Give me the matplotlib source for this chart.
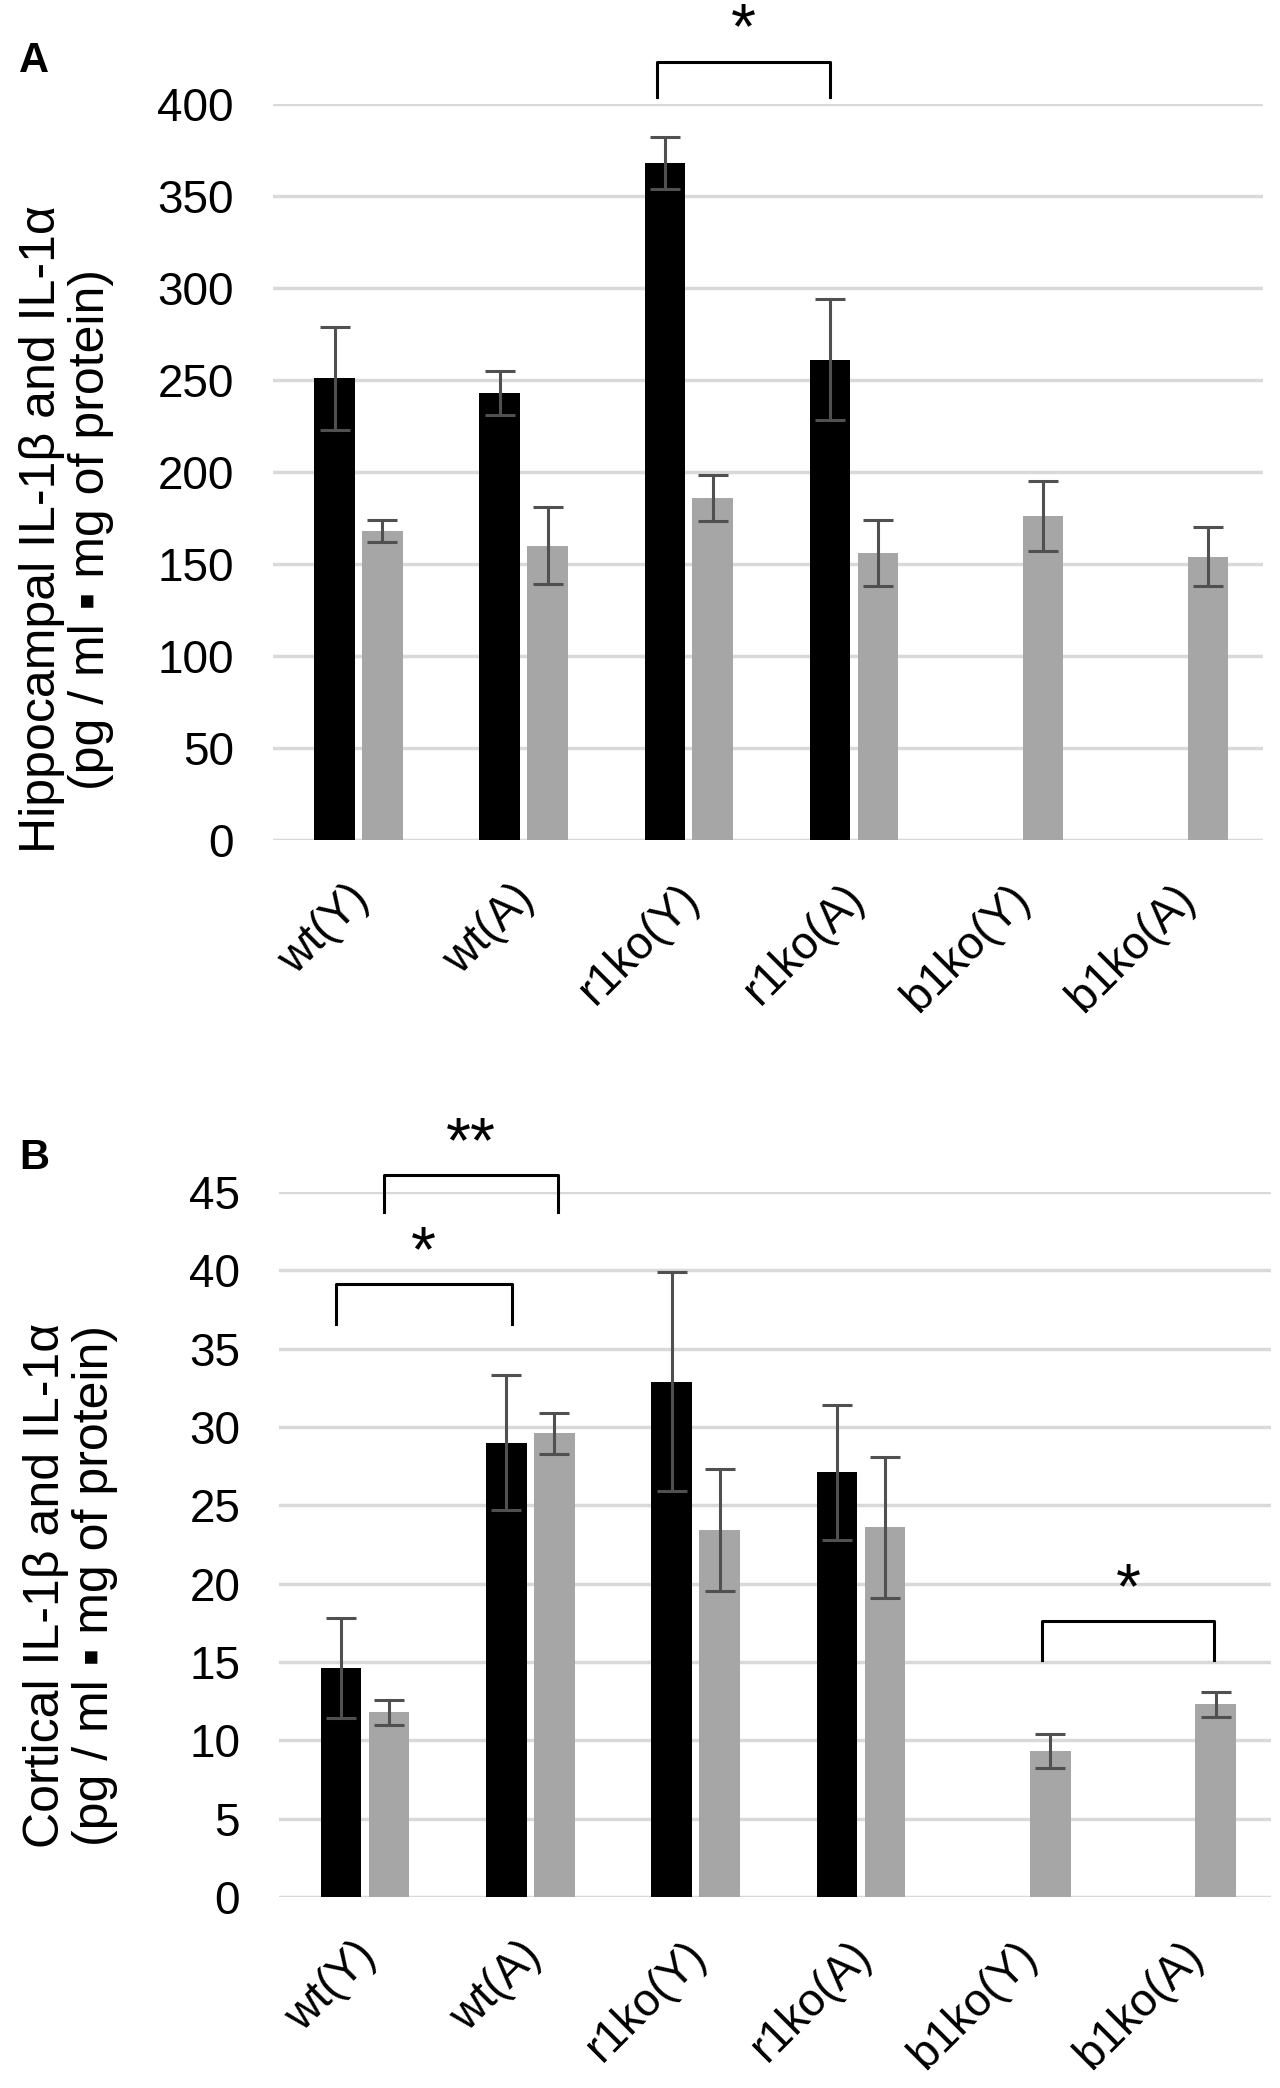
import matplotlib
matplotlib.use("Agg")
import matplotlib.pyplot as plt
import numpy as np

plt.rcParams['font.family'] = ['Liberation Sans', 'DejaVu Sans']

groups = ["wt(Y)", "wt(A)", "r1ko(Y)", "r1ko(A)", "b1ko(Y)", "b1ko(A)"]

# panel A: hippocampal
hip_black = [251, 243, 368, 261, np.nan, np.nan]
hip_black_err = [28, 12, 14, 33, np.nan, np.nan]
hip_gray = [168, 160, 186, 156, 176, 154]
hip_gray_err = [6, 21, 12.5, 18, 19, 16]

# panel B: cortical
cor_black = [14.6, 29.0, 32.9, 27.1, np.nan, np.nan]
cor_black_err = [3.2, 4.3, 7.0, 4.3, np.nan, np.nan]
cor_gray = [11.8, 29.6, 23.4, 23.6, 9.3, 12.3]
cor_gray_err = [0.8, 1.3, 3.9, 4.5, 1.1, 0.8]

# brackets: (x left, x right, y top, y bottom of legs, label)
hip_sig = [(1.806, 2.855, 423, 403.6, "*")]
cor_sig = [(0.113, 1.169, 46.1, 43.7, "**"),
           (-0.177, 0.887, 39.1, 36.6, "*"),
           (4.097, 5.137, 17.6, 15.1, "*")]

BLACK = "#000000"
GRAY = "#a6a6a6"
ERR = "#505050"
GRID = "#d9d9d9"

fig = plt.figure(figsize=(12.8, 20.88), dpi=100)


def panel(rect, black, black_err, gray, gray_err, ymax, step, sig):
    ax = fig.add_axes(rect)
    x = np.arange(len(groups))
    w = 0.245
    off = 0.145
    ax.bar(x - off, black, w, color=BLACK, zorder=3)
    ax.bar(x + off, gray, w, color=GRAY, zorder=3)
    ax.errorbar(x - off, black, yerr=black_err, fmt="none", ecolor=ERR,
                elinewidth=2.2, capsize=11, capthick=2.2, zorder=4)
    ax.errorbar(x + off, gray, yerr=gray_err, fmt="none", ecolor=ERR,
                elinewidth=2.2, capsize=11, capthick=2.2, zorder=4)
    ax.set_xlim(-0.52, 5.48)
    ax.set_ylim(0, ymax)
    ax.set_yticks(np.arange(0, ymax + step / 2, step))
    ax.yaxis.grid(True, color=GRID, linewidth=2.5, zorder=0)
    ax.set_axisbelow(True)
    for s in ax.spines.values():
        s.set_visible(False)
    ax.tick_params(axis="both", length=0, labelsize=33)
    ax.tick_params(axis="y", pad=28)
    ax.set_xticks(x - 0.07)
    ax.set_xticklabels(groups, rotation=45, ha="right", va="top",
                       rotation_mode="anchor", fontsize=33)
    ax.tick_params(axis="x", pad=26)
    for x0, x1, yt, yb, lab in sig:
        ax.plot([x0, x0, x1, x1], [yb, yt, yt, yb], color="black",
                linewidth=2.2, clip_on=False, zorder=5)
        ax.text((x0 + x1) / 2, yt, lab, ha="center", va="bottom",
                fontsize=46, clip_on=False)
    return ax


axA = panel([0.213, 0.5977, 0.774, 0.3525], hip_black, hip_black_err,
            hip_gray, hip_gray_err, 400, 50, hip_sig)
axB = panel([0.218, 0.0915, 0.775, 0.3376], cor_black, cor_black_err,
            cor_gray, cor_gray_err, 45, 5, cor_sig)

fig.text(0.052, 0.7466, "Hippocampal IL-1\u03b2 and IL-1\u03b1\n(pg / ml \u25aa mg of protein)",
         rotation=90, ha="center", va="center", multialignment="center",
         fontsize=36, linespacing=1.1)
fig.text(0.055, 0.2409, "Cortical IL-1\u03b2 and IL-1\u03b1\n(pg / ml \u25aa mg of protein)",
         rotation=90, ha="center", va="center", multialignment="center",
         fontsize=36, linespacing=1.1)

fig.text(0.015, 0.971, "A", fontsize=30, fontweight="bold", ha="left", va="center")
fig.text(0.015, 0.4454, "B", fontsize=30, fontweight="bold", ha="left", va="center")

fig.savefig("out.png", dpi=100)
